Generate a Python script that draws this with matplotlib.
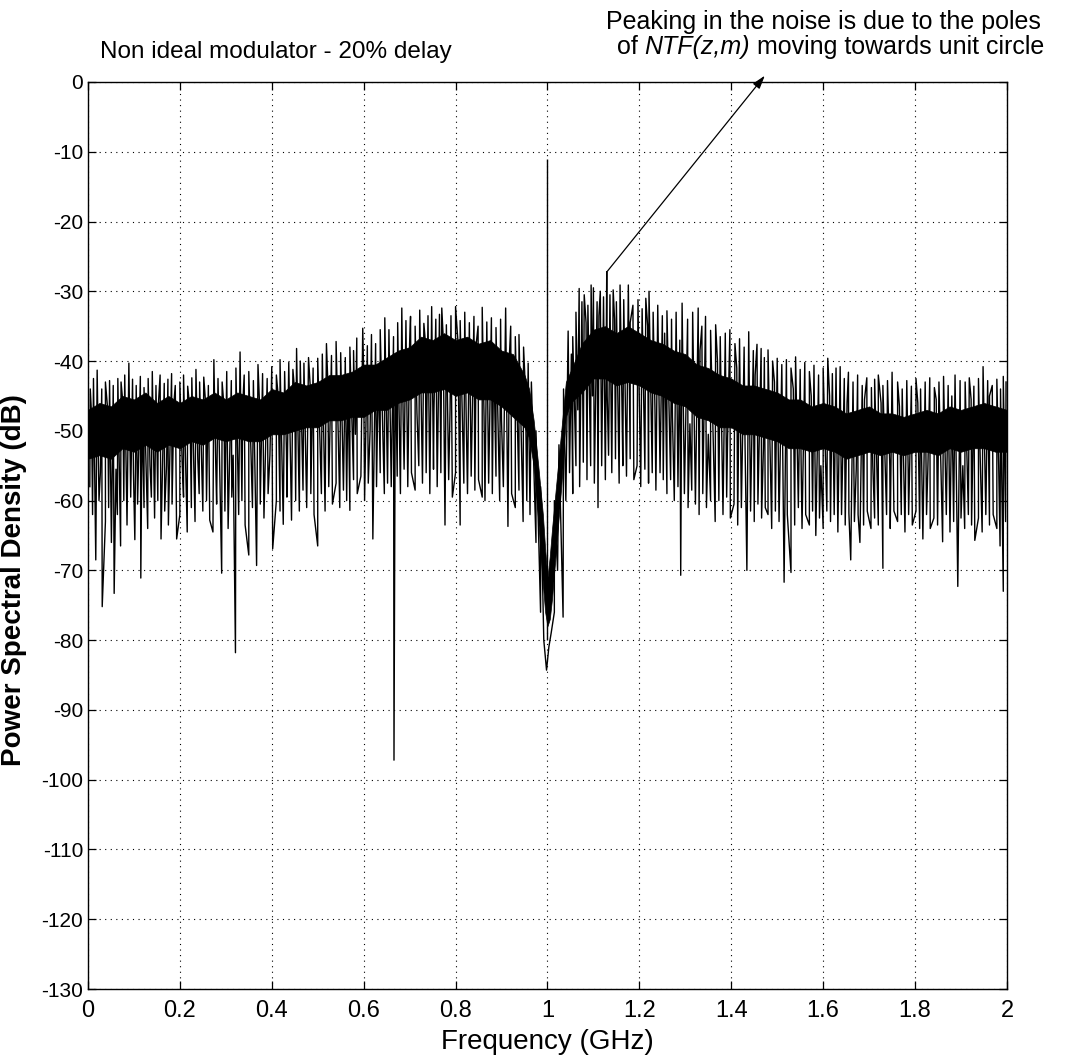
import matplotlib
matplotlib.use("Agg")
import matplotlib.pyplot as plt
import numpy as np

# dense part of the noise floor (band edges)
FREQ_KNOTS = [0.0, 0.025, 0.05, 0.075, 0.1, 0.125, 0.15, 0.175, 0.2, 0.225, 0.25, 0.275,
              0.3, 0.325, 0.35, 0.375, 0.4, 0.425, 0.45, 0.475, 0.5, 0.525, 0.55, 0.575,
              0.6, 0.625, 0.65, 0.675, 0.7, 0.725, 0.75, 0.775, 0.8, 0.825, 0.85, 0.875,
              0.9, 0.925, 0.95, 0.96, 0.97, 0.98, 0.99, 0.995, 1.0, 1.005, 1.01, 1.02,
              1.03, 1.04, 1.05, 1.075, 1.1, 1.125, 1.15, 1.175, 1.2, 1.225, 1.25, 1.275,
              1.3, 1.325, 1.35, 1.375, 1.4, 1.425, 1.45, 1.475, 1.5, 1.525, 1.55, 1.575,
              1.6, 1.625, 1.65, 1.675, 1.7, 1.725, 1.75, 1.775, 1.8, 1.825, 1.85, 1.875,
              1.9, 1.925, 1.95, 1.975, 2.0]
CORE_TOP = [-47, -46, -46.5, -45, -45.5, -44.5, -46, -45, -46, -45, -45.5, -44.5,
            -45.5, -44.5, -45, -45.5, -44, -44.5, -43, -43.5, -43, -42, -42, -41.5,
            -40.5, -40.5, -39.5, -38.5, -38, -36.5, -37, -36, -37, -36.5, -37.5, -37,
            -38.5, -39, -42, -44, -48.5, -55, -62, -67, -71, -68, -64, -57,
            -50, -43, -41.5, -37.5, -35.5, -35, -36, -35, -36, -37, -37.5, -38.5,
            -39, -40.5, -41, -42, -42.5, -43.5, -43.5, -44, -44.5, -45.5, -45.5, -46.5,
            -46, -46.5, -47.5, -47, -46.5, -47.5, -47.5, -48, -47.5, -47, -47.5, -46.5,
            -47, -46.5, -46, -46.5, -47]
CORE_BOT = [-54, -53.5, -54, -52.5, -53, -52, -53, -52, -52.5, -51.5, -52, -51,
            -51.5, -51, -51.5, -51.5, -50.5, -50.5, -50, -49.5, -49.5, -48.5, -48.5, -48,
            -48, -47, -47, -46, -45.5, -44.5, -44.5, -44, -45, -44.5, -45.5, -45.5,
            -46.5, -48, -49.5, -51, -55, -63, -72, -76, -78, -77, -74, -66,
            -58, -48, -46, -44.5, -42.5, -42.5, -43.5, -43, -43.5, -44.5, -45, -46,
            -46.5, -48, -48.5, -49.5, -49.5, -50.5, -50.5, -51, -51.5, -52.5, -52.5, -53,
            -52.5, -53, -54, -53.5, -53, -53.5, -53, -53.5, -53, -53, -53.5, -52.5,
            -53, -52.5, -52.5, -53, -53]

# upward noise spikes
UP_F = [0.005, 0.012, 0.02, 0.03, 0.038, 0.047, 0.055, 0.065, 0.072, 0.08, 0.089, 0.097,
        0.105, 0.114, 0.122, 0.131, 0.14, 0.148, 0.157, 0.166, 0.174, 0.182, 0.19, 0.2,
        0.208, 0.217, 0.226, 0.235, 0.243, 0.252, 0.262, 0.274, 0.283, 0.292, 0.302, 0.312,
        0.322, 0.331, 0.34, 0.35, 0.36, 0.37, 0.38, 0.39, 0.4, 0.41, 0.418, 0.428, 0.437,
        0.446, 0.454, 0.462, 0.47, 0.48, 0.49, 0.5, 0.51, 0.519, 0.53, 0.54, 0.55, 0.56,
        0.57, 0.578, 0.585, 0.598, 0.608, 0.617, 0.626, 0.636, 0.646, 0.655, 0.665, 0.674,
        0.683, 0.692, 0.702, 0.712, 0.722, 0.731, 0.74, 0.748, 0.757, 0.765, 0.77, 0.78,
        0.79, 0.8, 0.81, 0.82, 0.83, 0.84, 0.849, 0.858, 0.868, 0.878, 0.888, 0.898, 0.909,
        0.92, 0.93, 0.938, 0.948, 0.958, 0.965, 0.975, 0.985, 1.015, 1.025, 1.035,
        1.045, 1.055, 1.062, 1.069, 1.075, 1.08, 1.088, 1.095, 1.1, 1.108, 1.115, 1.122,
        1.129, 1.136, 1.143, 1.15, 1.158, 1.166, 1.176, 1.186, 1.197, 1.206, 1.214, 1.221,
        1.23, 1.24, 1.25, 1.26, 1.27, 1.28, 1.293, 1.305, 1.316, 1.328, 1.336, 1.344,
        1.355, 1.366, 1.376, 1.387, 1.397, 1.408, 1.418, 1.428, 1.438, 1.448, 1.456, 1.465,
        1.472, 1.48, 1.49, 1.5, 1.51, 1.52, 1.53, 1.54, 1.55, 1.56, 1.57, 1.58, 1.59, 1.6,
        1.61, 1.62, 1.628, 1.637, 1.646, 1.655, 1.665, 1.675, 1.685, 1.695, 1.705, 1.712,
        1.72, 1.73, 1.74, 1.75, 1.762, 1.772, 1.782, 1.792, 1.802, 1.812, 1.822, 1.832,
        1.842, 1.852, 1.862, 1.872, 1.887, 1.898, 1.909, 1.918, 1.928, 1.938, 1.948, 1.958,
        1.968, 1.978, 1.986, 1.992, 1.998]
UP_DB = [-44, -42.5, -41.3, -44, -43, -42.8, -43.5, -42.5, -43, -42, -40.3, -42.6,
         -43.5, -42.2, -43.8, -42.5, -41.5, -43.5, -42, -43.2, -42.6, -41.8, -43.5, -43,
         -42, -43.6, -42.4, -41.2, -43, -42.3, -43.5, -39.8, -42.5, -43, -41.5, -42.8,
         -41, -38.7, -42, -41.5, -42.8, -40.5, -41.8, -42.5, -40.8, -42, -39.8, -41.5, -40.2,
         -41.2, -38.2, -40, -40.3, -39.5, -41, -39.6, -39, -37.5, -39.2, -37.2, -38.8, -39.5,
         -38, -38.5, -36.7, -35.3, -37.8, -36.2, -37.5, -35.5, -33.8, -35.5, -36.5, -34.5,
         -32.4, -34.2, -33.6, -35, -32.7, -34.6, -33.5, -32.2, -34, -33.3, -32.4, -34.8,
         -33.5, -32.2, -34.2, -33, -34.5, -33.6, -35, -32.3, -34.4, -33.8, -35.2, -34, -32.4,
         -35, -36.5, -36.2, -38, -40.3, -43, -50, -58, -60, -52, -44,
         -35.7, -36.5, -33, -29.6, -31.5, -30.5, -32, -29.1, -29.5, -31.5, -30, -30.8,
         -27.2, -30.5, -29.8, -31.5, -29.1, -31.2, -29.1, -32, -31.2, -32.5, -31, -30,
         -33, -32, -33.5, -32.8, -34, -33, -31.7, -34, -33, -32.4, -35, -33.6,
         -35.6, -34.8, -36.5, -36, -35.5, -37.5, -36.8, -38, -35.8, -38.5, -37.6, -38.2,
         -39.5, -38.4, -40, -39.6, -40.5, -39.8, -41, -39.4, -41.2, -40.2, -41.5, -40.6, -42, -41,
         -39.6, -41.8, -41, -40.8, -42.5, -41.6, -43, -42, -43.5, -42.4, -43.8, -42.6,
         -42, -43.5, -42.8, -41.6, -43, -44, -42.8, -43.6, -42.5, -44, -43, -42.4,
         -43.8, -43, -42.2, -43.5, -42, -42.8, -43, -42.4, -43.6, -42.5, -40.8, -42.8,
         -43.5, -42.6, -44, -42.2, -43]

# downward noise spikes
DN_F = [0.004, 0.01, 0.017, 0.024, 0.031, 0.038, 0.045, 0.051, 0.057, 0.064, 0.071, 0.078,
        0.085, 0.093, 0.102, 0.108, 0.115, 0.122, 0.13, 0.138, 0.145, 0.152, 0.159, 0.167,
        0.175, 0.183, 0.193, 0.2, 0.208, 0.216, 0.225, 0.233, 0.242, 0.25, 0.258, 0.265,
        0.272, 0.28, 0.291, 0.298, 0.305, 0.313, 0.321, 0.328, 0.335, 0.342, 0.35, 0.358,
        0.367, 0.375, 0.383, 0.392, 0.402, 0.41, 0.418, 0.425, 0.433, 0.443, 0.452, 0.46,
        0.468, 0.476, 0.485, 0.492, 0.5, 0.508, 0.516, 0.524, 0.532, 0.54, 0.548, 0.556,
        0.563, 0.57, 0.578, 0.586, 0.594, 0.602, 0.61, 0.62, 0.628, 0.636, 0.645, 0.652,
        0.66, 0.666, 0.673, 0.68, 0.688, 0.696, 0.704, 0.712, 0.72, 0.728, 0.736, 0.744,
        0.752, 0.76, 0.768, 0.777, 0.785, 0.793, 0.8, 0.81, 0.818, 0.826, 0.834, 0.842,
        0.85, 0.858, 0.864, 0.872, 0.88, 0.888, 0.896, 0.904, 0.914, 0.922, 0.93, 0.938,
        0.947, 0.955, 0.962, 0.975, 0.985, 0.992, 0.998, 1.003, 1.008, 1.015, 1.022, 1.034,
        1.04, 1.048, 1.055, 1.062, 1.07, 1.078, 1.086, 1.094, 1.102, 1.11, 1.118, 1.126,
        1.133, 1.14, 1.148, 1.156, 1.164, 1.172, 1.18, 1.188, 1.195, 1.203, 1.212, 1.22,
        1.228, 1.236, 1.245, 1.252, 1.26, 1.268, 1.276, 1.284, 1.29, 1.298, 1.306, 1.314,
        1.322, 1.33, 1.338, 1.346, 1.355, 1.365, 1.373, 1.382, 1.39, 1.398, 1.406, 1.414,
        1.422, 1.434, 1.442, 1.45, 1.458, 1.466, 1.474, 1.48, 1.488, 1.496, 1.504, 1.515,
        1.522, 1.53, 1.538, 1.546, 1.554, 1.562, 1.57, 1.577, 1.584, 1.592, 1.6, 1.608,
        1.616, 1.624, 1.632, 1.64, 1.648, 1.656, 1.66, 1.668, 1.676, 1.68, 1.688, 1.696,
        1.704, 1.712, 1.72, 1.73, 1.738, 1.746, 1.754, 1.762, 1.77, 1.778, 1.786, 1.794,
        1.802, 1.81, 1.817, 1.825, 1.833, 1.841, 1.849, 1.86, 1.868, 1.876, 1.884, 1.893,
        1.9, 1.908, 1.916, 1.923, 1.93, 1.938, 1.946, 1.954, 1.962, 1.97, 1.978, 1.985,
        1.992, 1.997]
DN_DB = [-58, -62, -68.5, -60, -75.2, -63, -61, -66, -73.3, -62, -66.5, -60,
         -63.5, -59.5, -65.6, -60.5, -71.1, -61, -64, -59.5, -62.5, -60, -65.5, -61.5,
         -63.5, -60.5, -65.5, -62, -59.5, -64.5, -61, -63, -59, -61.5, -60, -62.8,
         -64.5, -60.5, -70.4, -61.5, -64, -59.5, -81.8, -62, -60, -63.5, -67.8, -61,
         -69.3, -60.5, -62.5, -59, -66.9, -60, -61.5, -63.4, -59.5, -62.8, -60, -61.5,
         -58.5, -61, -59, -62, -66.5, -59, -61.5, -58, -60.5, -57.5, -61, -58.5,
         -60, -61.4, -57, -59, -56.5, -60, -57.5, -65.5, -58, -56, -59, -57.5,
         -58, -97.2, -56.5, -59, -55.5, -58, -56, -58.5, -55, -57.5, -56, -59,
         -55.5, -58, -56, -63.5, -57, -59.5, -56, -63.5, -57.5, -59, -56.5, -58.5,
         -57, -59.5, -60, -57.5, -59, -56.5, -60, -58, -63.7, -59, -61, -58.5,
         -63, -60, -62, -66, -76, -80, -84.3, -81, -79, -76, -70, -76.7,
         -60, -56, -59, -55, -58, -54.5, -57, -55, -57.5, -61, -55, -57,
         -53.5, -56, -54, -57.5, -55, -56.5, -54, -57, -55, -58, -55.5, -57.5,
         -56, -58.5, -56, -57, -59, -57, -60, -58, -70.7, -59, -61, -58.5,
         -60.5, -62, -59, -61, -60, -63, -60, -62, -59.5, -62.5, -60.5, -63.5,
         -61, -70, -61.5, -63, -60.5, -62.5, -61, -62, -64, -61.5, -63, -71.7,
         -62, -70.3, -63.5, -61, -64, -62, -63.5, -61.5, -65, -62.5, -64, -61.5,
         -63, -62, -64.5, -62, -63.5, -61.8, -68.5, -63, -62, -66, -63.5, -61.5,
         -64, -62.5, -63.5, -69.7, -62, -64, -61.5, -63, -62, -64.5, -62, -63.5,
         -61.5, -64, -65.5, -62, -64, -62.5, -63.5, -65.9, -62, -64.5, -63, -72.3,
         -62.5, -64, -62, -63.5, -65.7, -62.5, -64.5, -62, -63.5, -62, -64, -66.5,
         -73, -63]

# smaller excursions just outside the dense band
MID_F = [0.008, 0.027, 0.043, 0.061, 0.076, 0.099, 0.118, 0.135, 0.153, 0.171, 0.187,
         0.205, 0.222, 0.239, 0.256, 0.278, 0.296, 0.316, 0.337, 0.355, 0.373, 0.396,
         0.414, 0.432, 0.45, 0.466, 0.484, 0.505, 0.522, 0.545, 0.566, 0.582, 0.6,
         0.614, 0.632, 0.65, 0.669, 0.686, 0.7, 0.716, 0.734, 0.753, 0.773, 0.788,
         0.805, 0.823, 0.845, 0.862, 0.883, 0.9, 0.917, 0.935, 0.952,
         1.052, 1.066, 1.084, 1.098, 1.112, 1.13, 1.146, 1.162, 1.18, 1.2, 1.218,
         1.234, 1.255, 1.272, 1.288, 1.31, 1.332, 1.35, 1.37, 1.392, 1.412, 1.43,
         1.452, 1.47, 1.494, 1.512, 1.535, 1.552, 1.574, 1.595, 1.614, 1.634, 1.652,
         1.672, 1.69, 1.708, 1.726, 1.745, 1.766, 1.785, 1.806, 1.828, 1.846, 1.866,
         1.88, 1.904, 1.922, 1.942, 1.962, 1.982]
MID_DB = [-48, -56, -47, -55.5, -46, -56, -47, -55, -46.5, -55, -46,
          -54.5, -47, -54, -46, -54.5, -46.5, -53.5, -46, -54, -45.5, -53.5,
          -45, -53, -44.5, -52.5, -44, -52, -43, -51.5, -42.5, -50.5, -41.5,
          -50, -40.5, -49.5, -39, -48.5, -37.5, -47.5, -37, -47, -36.5, -47,
          -37, -47.5, -37.5, -48, -38, -48.5, -39.5, -50, -44,
          -39, -47, -34.5, -45, -33.5, -45, -34, -45.5, -34.5, -46, -35,
          -47, -36, -48, -37, -49, -38.5, -50.5, -40, -51, -41, -52,
          -42, -52.5, -43, -53.5, -44, -54.5, -45, -55, -45, -55, -46,
          -55.5, -45.5, -55, -46, -55, -46.5, -55.5, -46, -55, -45.5, -55,
          -45, -55, -45.5, -54.5, -45, -55]

# signal tone at 1 GHz
TONE_F = 1.0
TONE_DB = [-80, -11]

YTICKS = list(range(0, -131, -10))
XTICKS = [0, 0.2, 0.4, 0.6, 0.8, 1, 1.2, 1.4, 1.6, 1.8, 2]
XTICKLABELS = ["0", "0.2", "0.4", "0.6", "0.8", "1", "1.2", "1.4", "1.6", "1.8", "2"]

plt.rcParams["font.family"] = ["Liberation Sans", "DejaVu Sans"]
plt.rcParams["axes.unicode_minus"] = False

fig = plt.figure(figsize=(10.78, 10.63), dpi=100)
ax = fig.add_axes([0.0816, 0.0696, 0.8525, 0.8533])

# dense noise band, then the spectrum trace running through the spike tips
ax.fill_between(FREQ_KNOTS, CORE_BOT, CORE_TOP, color="black", lw=0.5)
spec = sorted(zip(UP_F + DN_F + MID_F, UP_DB + DN_DB + MID_DB))
ax.plot([p[0] for p in spec], [p[1] for p in spec], color="black", lw=1.0)
ax.vlines(TONE_F, TONE_DB[0], TONE_DB[1], color="black", lw=1.0)

ax.set_xlim(0, 2)
ax.set_ylim(-130, 0)
ax.set_xticks(XTICKS)
ax.set_xticklabels(XTICKLABELS, fontsize=17)
ax.set_yticks(YTICKS)
ax.tick_params(axis="y", labelsize=15)
ax.tick_params(axis="x", pad=8)
ax.tick_params(direction="in", length=6, width=0.9, top=True, right=True)
ax.grid(True, color="black", linestyle=(0, (1, 4)), linewidth=0.8)
for s in ax.spines.values():
    s.set_linewidth(1.0)

ax.set_xlabel("Frequency (GHz)", fontsize=20, labelpad=5)
ax.set_ylabel("Power Spectral Density (dB)", fontweight="bold", fontsize=20)
ax.yaxis.set_label_coords(-0.066, 0.451)

fig.text(0.093, 0.951, "Non ideal modulator - 20% delay", fontsize=17.5,
         va="center", ha="left")
fig.text(0.562, 0.979, "Peaking in the noise is due to the poles", fontsize=18,
         va="center", ha="left")
t1 = fig.text(0.572, 0.956, "of ", fontsize=18, va="center", ha="left")
t2 = ax.annotate("NTF(z,m)", xy=(1, 0), xycoords=t1, fontsize=18, style="italic",
                 va="bottom", ha="left", annotation_clip=False)
ax.annotate(" moving towards unit circle", xy=(1, 0), xycoords=t2, fontsize=18,
            va="bottom", ha="left", annotation_clip=False)

ax.annotate("", xy=(1.473, 0.9), xytext=(1.1295, -27.2), annotation_clip=False,
            arrowprops=dict(arrowstyle="-|>,head_length=0.8,head_width=0.25",
                            color="black", lw=0.9, shrinkA=0, shrinkB=0))

fig.savefig("out.png", dpi=100)
